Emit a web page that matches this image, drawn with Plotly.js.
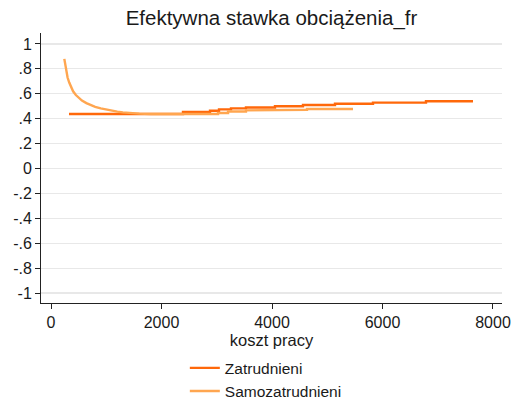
<!DOCTYPE html>
<html>
<head>
<meta charset="utf-8">
<script src="https://cdn.plot.ly/plotly-3.0.1.min.js"></script>
<style>html,body{margin:0;padding:0;background:#fff;}#chart{width:511px;height:402px;}</style>
</head>
<body>
<div id="chart"></div>
<script>
// Zatrudnieni (employees): step function (drawn with 'hv' steps)
const zatX = [326, 2389, 2878, 3041, 3258, 3529, 4054, 4561, 5140, 5828, 6787, 7638];
const zatY = [0.438, 0.455, 0.464, 0.475, 0.483, 0.49, 0.50, 0.51, 0.52, 0.529, 0.540, 0.540];
// Samozatrudnieni (self-employed): smooth decay then steps (repeated x = step)
const samX = [241, 260, 280, 300, 330, 360, 400, 450, 500, 560, 640, 720, 800, 900, 1000, 1100, 1200, 1300, 1450, 1600, 1800,
              3023, 3023, 3204, 3204, 3529, 3529, 4271, 4271, 4633, 4633, 5466];
const samY = [0.88, 0.83, 0.78, 0.73, 0.69, 0.655, 0.62, 0.59, 0.57, 0.545, 0.525, 0.508, 0.495, 0.483, 0.473, 0.465, 0.457, 0.451, 0.445, 0.441, 0.438,
              0.438, 0.446, 0.446, 0.458, 0.458, 0.467, 0.467, 0.472, 0.472, 0.478, 0.478];

const yTickVals = [-1, -0.8, -0.6, -0.4, -0.2, 0, 0.2, 0.4, 0.6, 0.8, 1];
const yTickText = ['-1', '-.8', '-.6', '-.4', '-.2', '0', '.2', '.4', '.6', '.8', '1'];
const xTickVals = [0, 2000, 4000, 6000, 8000];

const traces = [
  {x: zatX, y: zatY, type: 'scatter', mode: 'lines', name: 'Zatrudnieni',
   line: {color: 'rgb(255,104,10)', width: 2.4, shape: 'hv'}},
  {x: samX, y: samY, type: 'scatter', mode: 'lines', name: 'Samozatrudnieni',
   line: {color: 'rgb(255,166,80)', width: 2.4, shape: 'linear'}}
];

const layout = {
  width: 511, height: 402,
  margin: {l: 41, r: 9, t: 33, b: 99},
  paper_bgcolor: '#fff', plot_bgcolor: '#fff',
  font: {family: 'Liberation Sans, Arial, sans-serif', size: 16, color: '#1a1a1a'},
  title: {text: 'Efektywna stawka obciążenia_fr', x: 0.5, xref: 'paper', y: 0.955, yanchor: 'middle',
          font: {size: 20.5, color: '#1a1a1a'}},
  xaxis: {range: [-181, 8163], tickvals: xTickVals, ticktext: xTickVals.map(String),
          ticks: 'outside', ticklen: 5, tickcolor: '#222', showline: true, linecolor: '#222', linewidth: 1,
          showgrid: false, zeroline: false, automargin: false,
          title: {text: 'koszt pracy', standoff: 0, font: {size: 16.5}}},
  yaxis: {range: [-1.08, 1.088], tickvals: yTickVals, ticktext: yTickText,
          ticks: 'outside', ticklen: 5, tickcolor: '#222', showline: true, linecolor: '#222', linewidth: 1,
          showgrid: true, gridcolor: '#e8e8e8', gridwidth: 1.2, zeroline: false, automargin: false},
  showlegend: true,
  legend: {x: 0.312, xanchor: 'left', yref: 'container', y: 0.126, yanchor: 'top', orientation: 'v',
           font: {size: 15.5}, bgcolor: 'rgba(0,0,0,0)', tracegroupgap: 0}
};

Plotly.newPlot('chart', traces, layout, {displayModeBar: false, staticPlot: true});
</script>
</body>
</html>
